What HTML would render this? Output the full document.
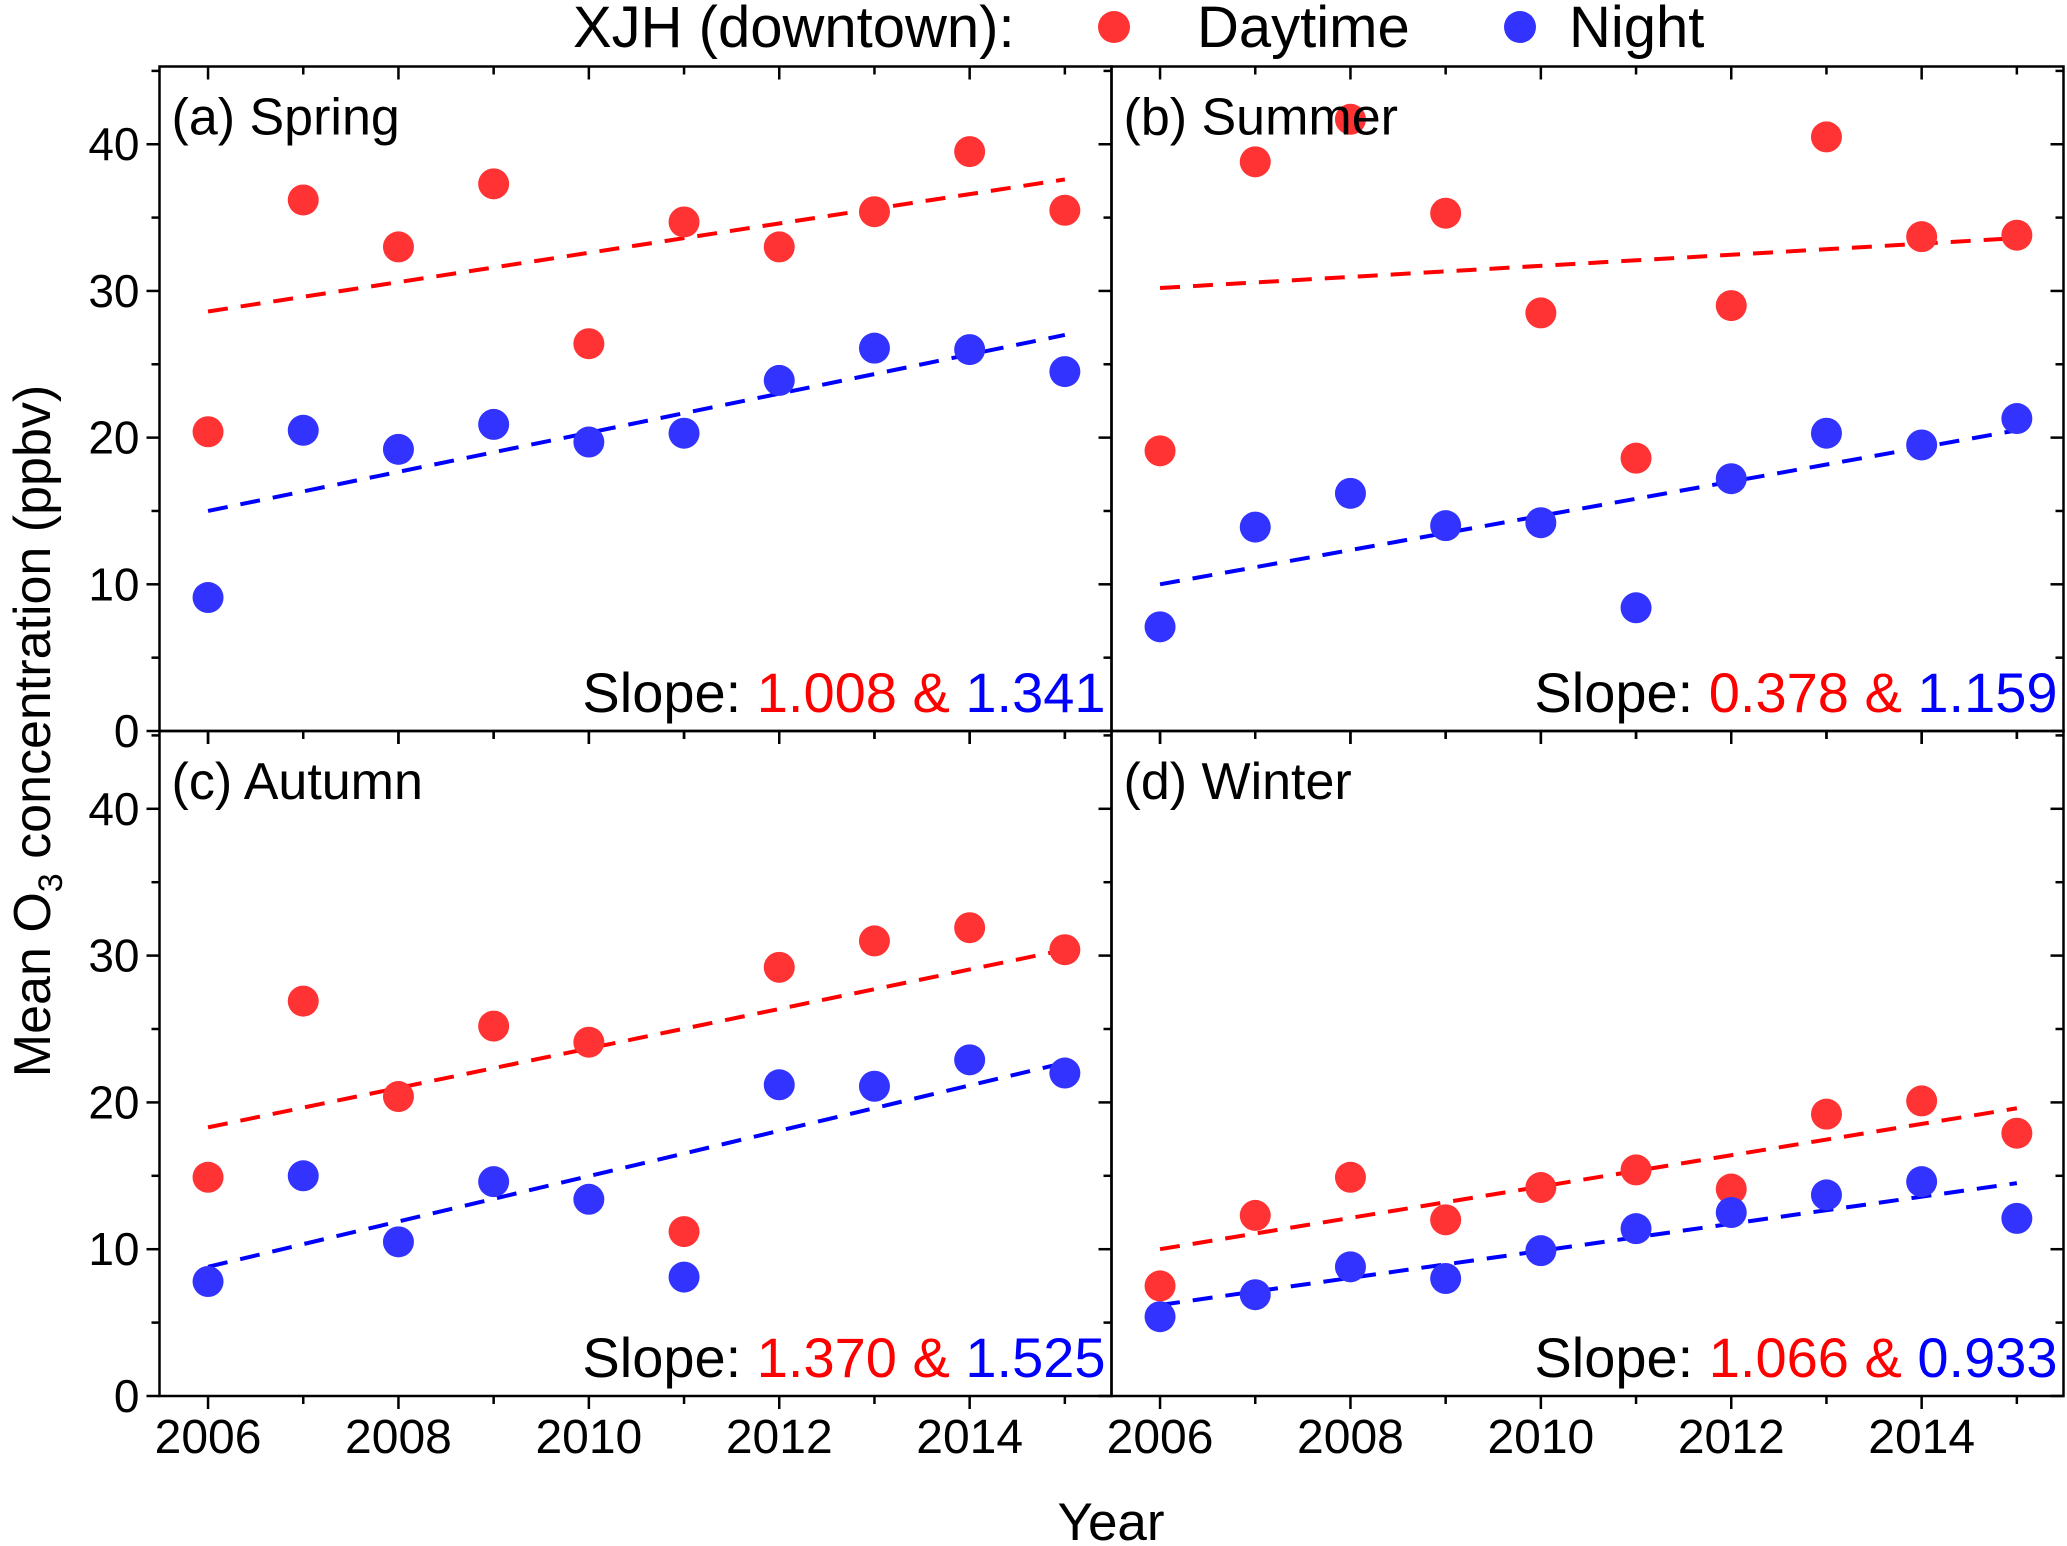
<!DOCTYPE html>
<html><head><meta charset="utf-8">
<style>
html,body{margin:0;padding:0;background:#fff;}
svg{display:block;font-family:"Liberation Sans",Arial,sans-serif;}
</style></head>
<body>
<svg id="chart" width="2067" height="1546" viewBox="0 0 2067 1546" xmlns="http://www.w3.org/2000/svg">
  <g>
    <text x="573" y="47" font-size="58">XJH (downtown):</text>
    <circle cx="1114" cy="27" r="16" fill="#ff3333"/>
    <text x="1197" y="47" font-size="58">Daytime</text>
    <circle cx="1520" cy="27" r="16" fill="#3333ff"/>
    <text x="1569" y="47" font-size="58">Night</text>
  </g>
  <text transform="translate(50,731) rotate(-90)" text-anchor="middle" font-size="52">Mean O<tspan font-size="34" dy="12">3</tspan><tspan dy="-12"> concentration (ppbv)</tspan></text>
  <text x="1111" y="1540" text-anchor="middle" font-size="53">Year</text>
</svg>
<script>
const years = [2006,2007,2008,2009,2010,2011,2012,2013,2014,2015];
const panelNames = ["(a) Spring","(b) Summer","(c) Autumn","(d) Winter"];
const dayValues = [
  [20.4,36.2,33.0,37.3,26.4,34.7,33.0,35.4,39.5,35.5],
  [19.1,38.8,41.7,35.3,28.5,18.6,29.0,40.5,33.7,33.8],
  [14.9,26.9,20.4,25.2,24.1,11.2,29.2,31.0,31.9,30.4],
  [7.5,12.3,14.9,12.0,14.2,15.4,14.1,19.2,20.1,17.9]
];
const nightValues = [
  [9.1,20.5,19.2,20.9,19.7,20.3,23.9,26.1,26.0,24.5],
  [7.1,13.9,16.2,14.0,14.2,8.4,17.2,20.3,19.5,21.3],
  [7.8,15.0,10.5,14.6,13.4,8.1,21.2,21.1,22.9,22.0],
  [5.4,6.9,8.8,8.0,9.9,11.4,12.5,13.7,14.6,12.1]
];
const dayFitStart = [28.6,30.2,18.3,10.0];
const dayFitEnd = [37.6,33.6,30.4,19.6];
const nightFitStart = [15.0,10.0,8.8,6.2];
const nightFitEnd = [27.0,20.5,22.7,14.5];
const daySlopes = ["1.008","0.378","1.370","1.066"];
const nightSlopes = ["1.341","1.159","1.525","0.933"];
const yTicks = [0,10,20,30,40];
const xTickLabels = [2006,2008,2010,2012,2014];

const NS="http://www.w3.org/2000/svg";
const svg=document.getElementById('chart');
function mk(tag,attrs,parent){const e=document.createElementNS(NS,tag);for(const k in attrs)e.setAttribute(k,attrs[k]);(parent||svg).appendChild(e);return e;}
const L0=159.5,M=1111.5,R0=2063.5,T0=66.5,MID=731,B0=1396;
const XMIN=2005.49,XMAX=2015.49,YMAX=45.3;
for(let p=0;p<4;p++){
  const col=p%2,row=Math.floor(p/2);
  const left=col?M:L0,right=col?R0:M,top=row?MID:T0,bottom=row?B0:MID;
  const xs=v=>left+(v-XMIN)/(XMAX-XMIN)*(right-left);
  const ys=v=>bottom-v/YMAX*(bottom-top);
  const g=mk('g',{});
  
  
  const frame=mk('rect',{x:left,y:top,width:right-left,height:bottom-top,fill:'none',stroke:'#000','stroke-width':2.5},g);
  
  
  // x ticks
  for(let yr=2006;yr<=2015;yr++){
    const x=xs(yr),len=(yr%2===0)?13:8;
    const t1=mk('line',{x1:x,x2:x,y1:top,y2:top+len,stroke:'#000','stroke-width':2.5},g);
    
    
    const t2=mk('line',{x1:x,x2:x,y1:bottom,y2:bottom+len,stroke:'#000','stroke-width':2.5},g);
    
    
  }
  if(row===1){
    xTickLabels.forEach(v=>{
      const t=mk('text',{x:xs(v),y:bottom+57,'text-anchor':'middle','font-size':48},g);
      t.textContent=v;
      
      
    });
  }
  // y ticks
  for(let v=0;v<=45;v+=5){
    const y=ys(v),len=(v%10===0)?13:8;
    if(col===0){
      const t=mk('line',{x1:left-len,x2:left,y1:y,y2:y,stroke:'#000','stroke-width':2.5},g);
      
      
    }
    const t2=mk('line',{x1:right-len,x2:right,y1:y,y2:y,stroke:'#000','stroke-width':2.5},g);
    
    
  }
  if(col===0){
    yTicks.forEach(v=>{
      const t=mk('text',{x:left-20,y:ys(v)+16,'text-anchor':'end','font-size':46},g);
      t.textContent=v;
      
      
    });
  }
  // fit lines
  const fd=mk('line',{x1:xs(2006),y1:ys(dayFitStart[p]),x2:xs(2015),y2:ys(dayFitEnd[p]),stroke:'#ff0000','stroke-width':4,'stroke-dasharray':'20 13'},g);
  
  
  const fn=mk('line',{x1:xs(2006),y1:ys(nightFitStart[p]),x2:xs(2015),y2:ys(nightFitEnd[p]),stroke:'#0000ff','stroke-width':4,'stroke-dasharray':'20 13'},g);
  
  
  // points
  years.forEach((yr,i)=>{
    const c=mk('circle',{cx:xs(yr),cy:ys(dayValues[p][i]),r:15.5,fill:'#ff3333'},g);
    
    
  });
  years.forEach((yr,i)=>{
    const c=mk('circle',{cx:xs(yr),cy:ys(nightValues[p][i]),r:15.5,fill:'#3333ff'},g);
    
    
  });
  const title=mk('text',{x:left+12,y:top+68,'font-size':52},g);
  title.textContent=panelNames[p];
  
  
  const s=mk('text',{x:right-6,y:bottom-19,'text-anchor':'end','font-size':56},g);
  
  
  const a=mk('tspan',{fill:'#000'},s);a.textContent='Slope: ';
  const b=mk('tspan',{fill:'#ff0000'},s);b.textContent=daySlopes[p]+' & ';
  const c=mk('tspan',{fill:'#0000ff'},s);c.textContent=nightSlopes[p];
}
</script>
</body></html>
